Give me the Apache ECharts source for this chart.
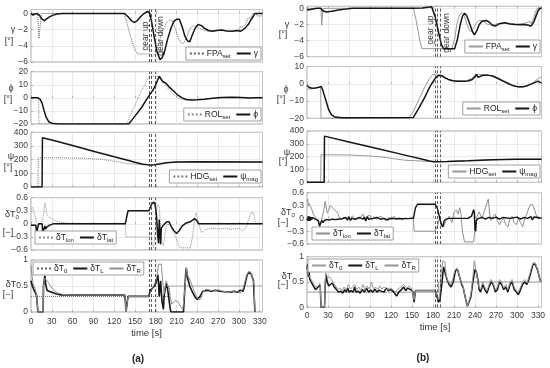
<!DOCTYPE html>
<html><head><meta charset="utf-8">
<script src="https://cdn.jsdelivr.net/npm/echarts@6/dist/echarts.min.js"></script>
<style>html,body{margin:0;padding:0;background:#fff}#c{width:550px;height:368px}</style>
</head><body><div id="c"></div>
<script>
// ---------- DATA (time [s], value) ----------
const xTicksA = [0,30,60,90,120,150,180,210,240,270,300,330];
const gearA = [171, 173, 179];
const gearB = [183, 185.5, 191];

// (a) flight path angle
const aFPAset = [[0,0],[9.5,0],[11.5,-3.1],[13.5,-1.2],[15,0],[134,0],[138,-1],[144,-3],[150,-4.5],[154,-5],[172,-5],[176,-5.3],[180,-4.8],[185,-3.5],[190,-2.2],[195,-1.2],[200,-0.8],[204,-0.9],[208,-1.8],[212,-2.9],[216,-3.6],[220,-3.7],[224,-3],[228,-2.1],[232,-1.6],[236,-1.5],[242,-1.8],[250,-2.1],[258,-2.2],[266,-2.1],[275,-2.05],[285,-2.15],[295,-2.2],[300,-2.05],[302,-1.6],[306,-1.7],[310,-1.3],[313,-0.6],[318,-0.4],[320,0],[325,0],[326,-0.3],[334,-0.3]];
const aGamma = [[0,0],[3,-0.2],[6,-0.05],[9,0],[12,-0.2],[15,-0.6],[19,-0.9],[22,-0.7],[26,-0.45],[32,-0.2],[38,-0.05],[45,0],[135,0],[140,-0.4],[145,-0.9],[149,-1.1],[153,-0.9],[158,-0.4],[163,0],[168,0.25],[171,0.1],[174,-1],[178,-3],[182,-4.8],[186,-5.7],[189,-5.5],[193,-4.6],[197,-3.2],[202,-1.8],[206,-1],[210,-0.7],[214,-0.7],[218,-1.6],[222,-2.8],[226,-3.4],[229,-3.5],[233,-2.6],[237,-1.8],[241,-1.35],[246,-1.5],[250,-1.8],[256,-2.1],[262,-2.2],[268,-2.1],[275,-2.05],[282,-2.15],[290,-2.2],[297,-2.1],[302,-2.2],[306,-2],[310,-1.7],[314,-1.3],[317,-0.8],[321,-0.3],[323,0],[334,0]];
// (a) roll
const aROLset = [[0,0],[11,0],[11.5,-20],[138,-20],[145,-11],[152,-3],[160,6],[167,13],[171,16.5],[182,16.5],[186,15],[192,11],[198,7],[205,3],[212,0],[220,-1.5],[230,-1.8],[240,-1.5],[255,-0.8],[270,0],[290,0.5],[305,0.3],[320,0],[334,0]];
const aPhi = [[0,0],[10,0],[13,-1],[16,-4],[19,-10],[22,-15],[26,-18.5],[32,-19.7],[40,-20],[141,-20],[150,-14],[160,-7],[167,-1],[172,3],[176,6],[180,10],[183,14],[185,16.5],[187,15],[190,12.5],[195,11],[200,8],[206,5],[212,2],[218,0],[224,-1.3],[232,-1.7],[240,-1.4],[250,-1],[262,-0.3],[275,0.2],[290,0.5],[302,0.3],[315,-0.1],[325,0],[334,0]];
// (a) heading
const aHDGset = [[0,0],[10,0],[10.5,215],[50,213],[80,209],[100,203],[115,193],[125,184],[138,172],[160,163],[172,160],[185,166],[200,178],[220,183],[334,183]];
const aPsi = [[0,0],[16,0],[16.5,360],[30,343],[60,303],[90,262],[120,221],[138,197],[150,181],[160,168],[172,160],[178,162],[185,168],[195,177],[210,182],[240,184],[334,183]];
// (a) throttle lon / lat
const aTlon = [[0,0.33],[2,0.38],[4,0.3],[6,0.15],[8,0.03],[10,0.02],[12,-0.02],[15,0],[18,0.2],[20,0.48],[21.5,0.35],[23,0.2],[26,0.15],[30,0.12],[36,0.07],[45,0.03],[55,0.01],[65,0],[136,0],[137,-0.3],[170,-0.3],[173,-0.2],[175,-0.5],[177,-0.55],[179,-0.2],[181,0.3],[183,0.45],[185,0.4],[187,-0.1],[189,-0.45],[191,-0.5],[193,-0.25],[195,-0.05],[197,0],[199,0.03],[202,-0.05],[205,-0.2],[209,-0.3],[212,-0.45],[215,-0.55],[230,-0.55],[233,-0.3],[236,0.1],[238,0.25],[240,0.15],[243,-0.05],[246,-0.2],[250,-0.15],[255,-0.12],[262,-0.1],[270,-0.12],[280,-0.1],[290,-0.13],[300,-0.1],[305,-0.15],[310,-0.1],[312,0],[315,0.15],[318,0.27],[321,0.25],[323,0.1],[324,0],[334,0]];
const aTlat = [[0,-0.03],[7,-0.03],[8,-0.2],[10,-0.2],[11,0],[16,0],[17,-0.2],[19,-0.2],[20,-0.05],[21,-0.12],[23,-0.07],[27,-0.03],[32,0],[136,0],[140,0.3],[170,0.3],[174,0.45],[177,0.5],[179,0.45],[181,0.2],[183,-0.3],[184,-0.45],[185,0.1],[186,-0.2],[187,-0.47],[188,-0.1],[190,-0.05],[193,0],[196,0.05],[199,0.05],[202,-0.05],[206,-0.15],[210,-0.22],[214,-0.15],[218,-0.05],[224,0.02],[230,0.05],[236,0.12],[239,0.08],[242,0],[334,0]];
// (a) engine throttles
const aT0 = [[0,0.3],[200,0.3],[200,0.5],[334,0.5]];
const aTL = [[0,0.6],[2,0.5],[5,0.4],[8,0.32],[9.5,0.3],[10,0],[17.5,0],[18,0.5],[20,0.7],[21,0.55],[23,0.42],[26,0.4],[30,0.38],[36,0.35],[42,0.33],[135,0.33],[136,0.25],[137,0],[138,0.1],[140,0.3],[170,0.3],[172,0.42],[175,0.45],[178,0.5],[180,0.55],[182,0.65],[183,0.72],[184,0.55],[185,0.3],[186,0.45],[187,0.6],[189,0.2],[191,0.05],[192,0.3],[195,0.55],[197,0.45],[199,0.25],[201,0.05],[202,0],[220,0],[223,0.7],[224,0.85],[226,0.65],[229,0.5],[233,0.38],[237,0.28],[240,0.24],[244,0.3],[248,0.4],[254,0.42],[260,0.4],[266,0.42],[272,0.4],[280,0.39],[288,0.38],[294,0.4],[298,0.38],[302,0.42],[306,0.4],[309,0.55],[312,0.72],[315,0.77],[318,0.72],[321,0.6],[322,0.3],[323,0]];
const aTR = [[0,0.9],[1,0.75],[3,0.55],[6,0.45],[8,0.33],[9.5,0.3],[10,0],[17.5,0],[18,0.5],[20,0.65],[22,0.62],[25,0.57],[28,0.5],[32,0.43],[38,0.37],[45,0.34],[55,0.33],[135,0.33],[136,0.25],[137,0],[138,0.1],[140,0.3],[170,0.3],[175,0.45],[180,0.6],[182,0.7],[184,0.92],[188,0.92],[190,0.6],[192,0.35],[195,0.6],[198,0.5],[201,0.3],[203,0.15],[205,0.15],[208,0.22],[212,0.2],[216,0.1],[219,0.05],[221,0.3],[223,0.6],[224,0.85],[226,0.7],[230,0.6],[234,0.45],[238,0.32],[242,0.24],[245,0.25],[248,0.38],[252,0.44],[258,0.42],[264,0.4],[270,0.43],[276,0.4],[282,0.39],[286,0.37],[290,0.41],[294,0.38],[298,0.4],[302,0.36],[306,0.45],[308,0.55],[311,0.7],[314,0.78],[317,0.76],[320,0.65],[322,0.5],[323,0]];

// (b) flight path angle
const bFPAset = [[0,0],[20,0],[21,-2.1],[22.5,-0.5],[23,0],[152,0],[156,-1.5],[160,-3.5],[164,-5],[207,-5],[211,-3.8],[214,-2],[217,-1],[221,-0.5],[224,-0.8],[228,-1.8],[232,-2.7],[235,-2.9],[238,-2.4],[242,-1.8],[246,-1.5],[252,-1.6],[258,-2],[265,-2.1],[272,-1.9],[280,-1.8],[290,-1.9],[300,-1.95],[308,-1.9],[314,-1.8],[318,-1.6],[320,-1.9],[324,-1.2],[326,-0.5],[329,0],[335,0]];
const bGamma = [[0,-0.2],[5,-0.15],[10,-0.05],[15,0],[20,0],[22,-0.3],[24,-0.5],[28,-0.45],[35,-0.35],[45,-0.2],[55,-0.1],[65,0],[150,0],[165,0.05],[175,0.15],[178,0.2],[183,-1],[188,-3],[192,-4.5],[195,-5],[211,-5],[215,-3.8],[219,-2],[222,-1],[225,-0.6],[228,-0.9],[232,-1.8],[236,-2.8],[239,-3.3],[242,-2.9],[246,-2],[250,-1.6],[256,-1.5],[260,-1.7],[265,-2.1],[269,-2.2],[275,-1.9],[283,-1.8],[290,-1.95],[297,-2],[305,-2.05],[311,-2],[316,-2.1],[320,-2.2],[324,-1.7],[327,-1],[330,-0.3],[333,0],[335,0]];
// (b) roll
const bROLset = [[0,-3],[5,-3],[10,-2.5],[15,-2.3],[19.5,-2],[20,-20],[145,-20],[152,-16],[160,-9],[168,-2],[175,3],[180,5.5],[185,5.2],[190,4.5],[196,3.5],[202,2.5],[210,1.8],[220,1.5],[228,1.8],[235,3],[240,5],[245,5.5],[255,5.2],[265,4.5],[275,3],[285,1],[293,-0.8],[300,-1.8],[308,-2],[315,-1.3],[322,0.3],[328,2.3],[332,3.5],[335,4]];
const bPhi = [[0,-1],[3,-2],[7,-2.6],[12,-2.4],[17,-2],[20,-1.5],[22,-3],[25,-7],[28,-11],[31,-15],[35,-18],[40,-19.3],[50,-19.7],[152,-19.5],[160,-14],[168,-8],[174,-3],[178,0],[183,3],[188,5],[192,4.8],[197,3.5],[202,2.5],[208,1.8],[215,1.5],[222,1.5],[230,1.6],[236,2.5],[240,4],[242,5.5],[244,3.8],[247,4.2],[252,5],[258,5],[265,4.5],[272,3.2],[280,1.5],[288,0],[295,-1.2],[302,-1.8],[308,-1.8],[314,-1.2],[320,-0.2],[326,0.8],[330,1.5],[333,0.8],[335,0.5]];
// (b) heading
const bHDGset = [[0,0],[19.5,0],[20,215],[60,213],[90,205],[110,195],[125,183],[140,172],[160,167],[180,160],[200,162],[230,168],[265,176],[300,180],[335,180]];
const bPsi = [[0,0],[24.5,0],[25,360],[60,315],[100,263],[140,212],[165,180],[175,166],[182,160],[200,162],[230,168],[265,176],[300,180],[335,180]];
// (b) throttle lon / lat
const bTlon = [[0,0.4],[1,0.45],[2,0.3],[3,0.35],[5,0.28],[7,0.2],[9,0.1],[11,0.05],[13,0],[15,-0.05],[17,-0.1],[18,-0.2],[19,-0.2],[20,-0.1],[22,0.05],[24,0.2],[26,0.4],[27,0.3],[29,0.12],[31,0.18],[33,0.3],[35,0.27],[38,0.22],[41,0.18],[44,0.12],[46,0.02],[48,0.05],[50,-0.02],[53,0.03],[56,-0.03],[59,0.05],[62,-0.02],[65,0.06],[68,-0.04],[71,0.03],[74,-0.02],[77,0.04],[80,0.1],[82,-0.03],[86,0.05],[90,0.07],[93,-0.02],[96,0.04],[100,-0.03],[104,0.05],[108,0.02],[112,-0.05],[116,0.02],[120,-0.03],[124,0.05],[128,-0.04],[132,0.03],[136,-0.05],[140,0.02],[144,-0.02],[148,0.03],[152,0],[153,-0.3],[183,-0.3],[186,-0.2],[189,0],[192,-0.1],[195,-0.2],[199,-0.05],[203,0.05],[207,-0.1],[210,0.15],[213,0.2],[216,0.1],[218,0.25],[220,0.1],[222,-0.3],[225,-0.55],[238,-0.55],[240,-0.2],[243,0.05],[246,0.15],[250,0],[254,0.2],[257,0.35],[259,0.45],[261,0.1],[263,-0.05],[266,0.05],[269,0.1],[272,-0.05],[275,-0.15],[278,-0.05],[281,0],[284,-0.15],[287,-0.2],[290,0],[293,0.05],[296,-0.1],[299,-0.15],[302,0],[305,-0.1],[308,-0.2],[311,0],[314,0.1],[317,0.25],[320,0.33],[323,0.3],[326,0.15],[329,0],[335,0]];
const bTlat = [[0,0],[1,-0.05],[2,0.05],[3,-0.06],[4,0.04],[5,-0.05],[6,0.03],[7,-0.03],[8,0.02],[10,0],[13,-0.03],[16,-0.05],[18,-0.18],[20,-0.2],[21,-0.05],[23,-0.1],[25,-0.05],[28,-0.03],[32,-0.04],[36,-0.02],[40,-0.03],[45,-0.02],[50,-0.01],[55,0.02],[58,-0.04],[60,0.03],[62,-0.05],[64,0],[70,-0.02],[75,0.02],[80,-0.02],[82,0.03],[84,-0.06],[86,0.04],[88,-0.02],[95,0],[100,0.02],[105,-0.02],[110,0],[115,-0.04],[118,0],[130,-0.01],[152,0],[155,0.25],[158,0.33],[183,0.33],[186,0.25],[189,0.05],[192,-0.15],[194,-0.2],[196,-0.05],[199,-0.02],[203,0],[230,0],[235,0.05],[238,0.2],[239,0.15],[240,-0.25],[241,-0.3],[242,-0.05],[245,0],[250,0.02],[255,-0.02],[260,0.02],[265,0],[270,0.03],[275,-0.02],[280,0.02],[290,0],[300,0.03],[305,-0.02],[310,0.02],[315,0],[320,0.04],[322,-0.04],[324,0.03],[326,0],[330,0.02],[335,0]];
// (b) engine throttles
const bT0 = [[0,0.3],[188,0.3],[188,0.5],[335,0.5]];
const bTL = [[0,0.75],[1,0.85],[2,0.6],[3,0.7],[4,0.55],[6,0.5],[8,0.45],[10,0.4],[12,0.35],[14,0.35],[16,0.4],[18,0.45],[19,0.4],[20,0],[25,0],[26,0.4],[27,0.65],[29,0.5],[31,0.42],[33,0.45],[36,0.48],[39,0.4],[42,0.35],[45,0.3],[48,0.32],[51,0.28],[54,0.35],[56,0.3],[58,0.38],[60,0.3],[63,0.33],[66,0.3],[68,0.4],[70,0.3],[73,0.32],[76,0.28],[79,0.35],[82,0.3],[85,0.38],[88,0.3],[91,0.34],[94,0.3],[97,0.36],[100,0.3],[103,0.34],[106,0.32],[110,0.3],[113,0.38],[116,0.33],[120,0.35],[124,0.3],[128,0.22],[131,0.3],[135,0.35],[138,0.4],[141,0.33],[144,0.38],[148,0.35],[151,0.32],[153,0.1],[155,0.33],[183,0.33],[186,0.2],[188,0.1],[190,0.15],[193,0.5],[195,0.8],[197,0.7],[200,0.55],[203,0.45],[206,0.4],[209,0.5],[212,0.72],[215,0.75],[218,0.6],[221,0.45],[223,0.4],[226,0.2],[229,0.02],[231,0],[234,0.2],[237,0.5],[240,0.75],[242,0.7],[244,0.55],[246,0.35],[248,0.3],[251,0.45],[254,0.35],[257,0.28],[260,0.4],[263,0.5],[266,0.45],[269,0.3],[272,0.35],[275,0.5],[278,0.45],[281,0.35],[284,0.4],[287,0.3],[290,0.45],[293,0.5],[296,0.35],[299,0.3],[302,0.25],[305,0.35],[308,0.45],[311,0.5],[314,0.45],[317,0.55],[320,0.7],[323,0.85],[326,0.85],[329,0.75],[332,0.6],[334,0.5],[335,0.5]];
const bTR = [[0,0.7],[1,0.8],[2,0.65],[4,0.6],[6,0.55],[8,0.5],[10,0.45],[12,0.4],[14,0.38],[16,0.42],[18,0.47],[19,0.42],[20,0],[25,0],[26,0.5],[27,0.68],[29,0.6],[32,0.6],[35,0.55],[38,0.48],[41,0.42],[44,0.35],[47,0.38],[50,0.33],[53,0.4],[56,0.34],[59,0.45],[62,0.36],[65,0.4],[68,0.45],[71,0.35],[74,0.4],[77,0.33],[80,0.45],[83,0.35],[86,0.42],[89,0.36],[92,0.5],[95,0.36],[98,0.4],[101,0.35],[104,0.42],[107,0.36],[110,0.4],[114,0.35],[118,0.38],[122,0.36],[126,0.3],[130,0.36],[134,0.4],[138,0.45],[142,0.38],[146,0.42],[150,0.36],[153,0.15],[155,0.33],[183,0.33],[186,0.22],[188,0.15],[190,0.3],[192,0.7],[194,0.92],[197,0.9],[199,0.62],[202,0.5],[205,0.45],[208,0.55],[211,0.72],[214,0.78],[217,0.65],[220,0.5],[223,0.42],[226,0.2],[229,0.02],[231,0],[234,0.25],[237,0.6],[239,0.92],[241,0.9],[243,0.6],[245,0.42],[248,0.35],[251,0.5],[254,0.4],[257,0.32],[260,0.45],[263,0.55],[266,0.48],[269,0.35],[272,0.4],[275,0.55],[278,0.5],[281,0.38],[284,0.45],[287,0.35],[290,0.5],[293,0.55],[296,0.4],[299,0.33],[302,0.3],[305,0.4],[308,0.5],[311,0.55],[314,0.48],[317,0.6],[320,0.75],[323,0.88],[326,0.88],[329,0.75],[332,0.6],[334,0.5],[335,0.5]];

// ---------- LAYOUT ----------
const FONT = '"Liberation Sans", Arial, sans-serif';
const TXT = '#3a3a3a';
const gridsPx = [
  {left:31, width:231.5, top:9.5, height:52.5},
  {left:31, width:231.5, top:71.7, height:52.3},
  {left:31, width:231.5, top:132.3, height:54.7},
  {left:31, width:231.5, top:197.7, height:52.3},
  {left:31, width:231.5, top:260, height:52},
  {left:307, width:234.5, top:6.3, height:50.4},
  {left:307, width:234.5, top:66.5, height:51.8},
  {left:307, width:234.5, top:131, height:51.3},
  {left:307, width:234.5, top:192.7, height:51.3},
  {left:307, width:234.5, top:256.7, height:50.6}
];
const yRanges = [
  [-6,0.5,2],[-20,20,10],[0,400,100],[-0.6,0.6,0.3],[0,1,0.5],
  [-6,0.25,2],[-20,10,10],[0,400,100],[-0.6,0.6,0.3],[0,1,0.5]
];
const fmt = v => String(+(+v).toFixed(2)).replace('-', '\u2212');

const grid = gridsPx.map(g => Object.assign({show:true, borderColor:'#8a8a8a', borderWidth:0.8, backgroundColor:'#fff'}, g));
const xAxis = gridsPx.map((g,i) => ({
  type:'value', gridIndex:i, min:0, max: i<5 ? 334 : 335, interval:30,
  axisLine:{show:false},
  axisTick:{show:true, inside:true, length:2, lineStyle:{color:'#8a8a8a', width:0.6}},
  splitLine:{show:true, lineStyle:{color:'#dcdcdc', width:0.6}},
  axisLabel:{show: i===4 || i===9, showMaxLabel:false, fontSize:8.5, fontFamily:FONT, color:TXT, margin: i===4 ? 5 : 4, formatter:fmt}
}));
const yAxis = yRanges.map((r,i) => ({
  type:'value', gridIndex:i, min:r[0], max:r[1], interval:r[2],
  axisLine:{show:false},
  axisTick:{show:true, inside:true, length:2, lineStyle:{color:'#8a8a8a', width:0.6}},
  splitLine:{show:true, lineStyle:{color:'#dcdcdc', width:0.6}},
  axisLabel:{fontSize:8.5, fontFamily:FONT, color:TXT, margin:3, showMaxLabel: (i!==0 && i!==5), formatter:fmt}
}));

const BLACK = '#151515';
function S(name, data, g, color, width, type, extra) {
  return Object.assign({
    type:'line', name, data, xAxisIndex:g, yAxisIndex:g, symbol:'none', showSymbol:false,
    animation:false, silent:true, lineStyle:{color, width, type: type||'solid'}, itemStyle:{color}
  }, extra||{});
}
function gearML(times) {
  return {markLine:{silent:true, symbol:['none','none'], label:{show:false}, animation:false,
    lineStyle:{color:'#333', type:[3,2], width:0.8}, data: times.map(t => ({xAxis:t}))}};
}

const series = [
  S('aFPA', aFPAset, 0, '#666', 1, 'dotted', gearML(gearA)),
  S('aGam', aGamma, 0, BLACK, 1.5),
  S('aROL', aROLset, 1, '#8a8a8a', 1, 'dotted', gearML(gearA)),
  S('aPhi', aPhi, 1, BLACK, 1.5),
  S('aHDG', aHDGset, 2, '#777', 1, 'dotted', gearML(gearA)),
  S('aPsi', aPsi, 2, BLACK, 1.5),
  S('aLon', aTlon, 3, '#8a8a8a', 1, 'dotted', gearML(gearA)),
  S('aLat', aTlat, 3, BLACK, 1.5),
  S('aT0', aT0, 4, '#666', 1, 'dotted', gearML(gearA)),
  S('aTL', aTL, 4, BLACK, 1.6),
  S('aTR', aTR, 4, '#909090', 1),
  S('bFPA', bFPAset, 5, '#9a9a9a', 1, 'solid', gearML(gearB)),
  S('bGam', bGamma, 5, BLACK, 1.5),
  S('bROL', bROLset, 6, '#9a9a9a', 1, 'solid', gearML(gearB)),
  S('bPhi', bPhi, 6, BLACK, 1.5),
  S('bHDG', bHDGset, 7, '#9a9a9a', 1, 'solid', gearML(gearB)),
  S('bPsi', bPsi, 7, BLACK, 1.5),
  S('bLon', bTlon, 8, '#8f8f8f', 1, 'solid', gearML(gearB)),
  S('bLat', bTlat, 8, BLACK, 1.4),
  S('bT0', bT0, 9, '#9a9a9a', 1, 'solid', gearML(gearB)),
  S('bTL', bTL, 9, BLACK, 1.5),
  S('bTR', bTR, 9, '#959595', 1)
];

const legText = {
  aFPA:'{n|FPA}{s|set}', aGam:'{n|\u03b3}', aROL:'{n|ROL}{s|set}', aPhi:'{n|\u03d5}',
  aHDG:'{n|HDG}{s|set}', aPsi:'{n|\u03c8}{s|mag}', aLon:'{n|\u03b4T}{s|lon}', aLat:'{n|\u03b4T}{s|lat}',
  aT0:'{n|\u03b4T}{s|0}', aTL:'{n|\u03b4T}{s|L}', aTR:'{n|\u03b4T}{s|R}'
};
Object.keys(legText).forEach(k => legText['b'+k.slice(1)] = legText[k]);
const rich = {n:{fontSize:8.5, fontFamily:FONT, color:'#222', lineHeight:11}, s:{fontSize:6, fontFamily:FONT, color:'#222', lineHeight:11, verticalAlign:'bottom', padding:[5,0,0,0]}};
function L(names, pos) {
  return Object.assign({data:names, orient:'horizontal', itemWidth:14, itemHeight:6, itemGap:5, padding:[1,3,1,3],
    borderColor:'#8a8a8a', borderWidth:0.8, backgroundColor:'#fff', selectedMode:false,
    itemStyle:{opacity:0, borderWidth:0},
    formatter: n => legText[n], textStyle:{rich, padding:[0,0,0,-2]}}, pos);
}
const legend = [
  L(['aFPA','aGam'], {right:289, top:47}),
  L(['aROL','aPhi'], {right:289, top:108}),
  L(['aHDG','aPsi'], {right:289, top:170}),
  L(['aLon','aLat'], {left:35, top:231}),
  L(['aT0','aTL','aTR'], {left:33, top:262}),
  L(['bFPA','bGam'], {right:10, top:40}),
  L(['bROL','bPhi'], {right:10, top:102}),
  L(['bHDG','bPsi'], {right:10, top:165}),
  L(['bLon','bLat'], {left:312, top:227}),
  L(['bT0','bTL','bTR'], {left:308, top:259})
];

const yl = (x, y, t) => ({type:'text', x, y, silent:true, style:{text:t, fill:'#333', font:'9px '+FONT, align:'center', verticalAlign:'middle',
  rich:{n:{fontSize:9, fontFamily:FONT, fill:'#333'}, s:{fontSize:6, fontFamily:FONT, fill:'#333', verticalAlign:'bottom', padding:[5,0,0,0]}}}});
const rot = (x, y, t) => ({type:'text', x, y, rotation:Math.PI/2, silent:true, style:{text:t, fill:'#333', font:'8.5px '+FONT, align:'center', verticalAlign:'middle'}});
const graphic = [
  yl(13,30,'{n|\u03b3}'), yl(9,42,'{n|[\u00b0]}'),
  yl(11,89,'{n|\u03d5}'), yl(8,100,'{n|[\u00b0]}'),
  yl(11,157,'{n|\u03c8}'), yl(8,168,'{n|[\u00b0]}'),
  yl(12,215,'{n|\u03b4T}{s|0}'), yl(8,233,'{n|[\u2212]}'),
  yl(11,285,'{n|\u03b4T}'), yl(8,295,'{n|[\u2212]}'),
  yl(287,25,'{n|\u03b3}'), yl(283,35,'{n|[\u00b0]}'),
  yl(286,90,'{n|\u03d5}'), yl(281,100,'{n|[\u00b0]}'),
  yl(287,153,'{n|\u03c8}'), yl(283,162,'{n|[\u00b0]}'),
  yl(288,213,'{n|\u03b4T}{s|0}'), yl(283,223,'{n|[\u2212]}'),
  yl(287,277,'{n|\u03b4T}'), yl(283,285,'{n|[\u2212]}'),
  rot(146,36,'gear up'), rot(160.5,36,'gear down'),
  rot(431,30,'gear up'), rot(446.5,33,'gear down'),
  {type:'text', x:146.5, y:333, silent:true, style:{text:'time [s]', fill:'#333', font:'9.5px '+FONT, align:'center', verticalAlign:'middle'}},
  {type:'text', x:435, y:327.5, silent:true, style:{text:'time [s]', fill:'#333', font:'9.5px '+FONT, align:'center', verticalAlign:'middle'}},
  {type:'text', x:138, y:359, silent:true, style:{text:'(a)', fill:'#222', font:'bold 10px '+FONT, align:'center', verticalAlign:'middle'}},
  {type:'text', x:423, y:358, silent:true, style:{text:'(b)', fill:'#222', font:'bold 10px '+FONT, align:'center', verticalAlign:'middle'}}
];

const chart = echarts.init(document.getElementById('c'), null, {renderer:'canvas'});
chart.setOption({animation:false, backgroundColor:'#fff', grid, xAxis, yAxis, series, legend, graphic});
</script></body></html>
